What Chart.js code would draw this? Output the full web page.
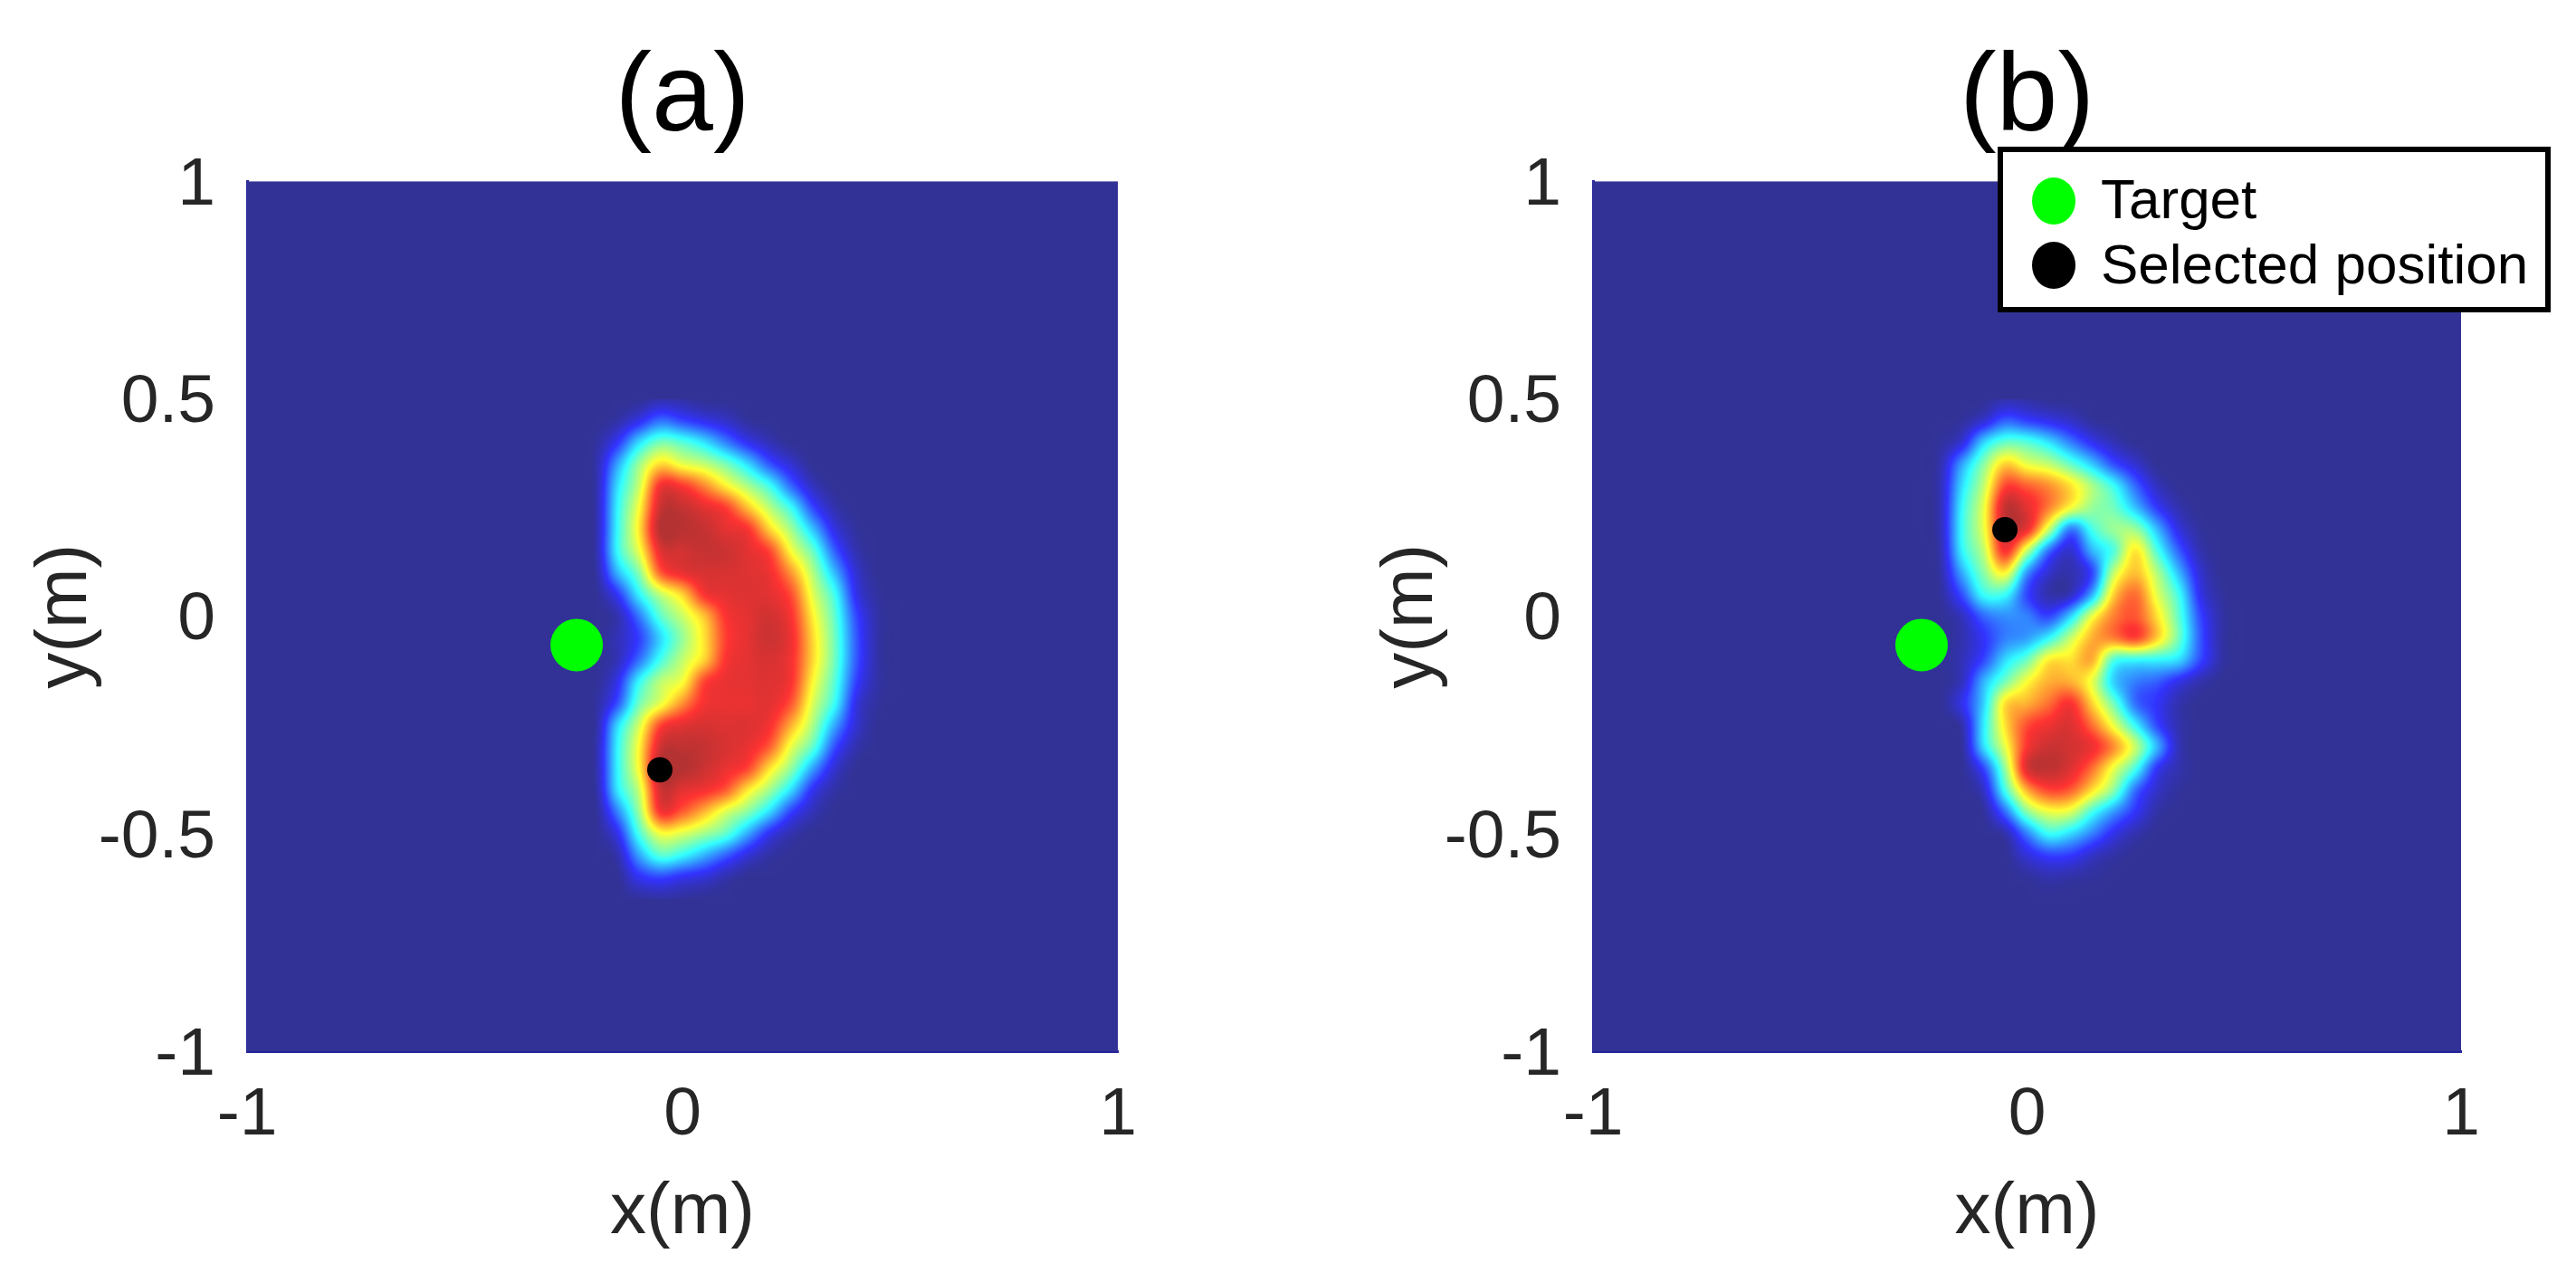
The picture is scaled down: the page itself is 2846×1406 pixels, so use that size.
<!DOCTYPE html>
<html><head><meta charset="utf-8">
<script src="https://cdn.jsdelivr.net/npm/chart.js@4"></script>
<style>html,body{margin:0;padding:0;background:#fff;width:2846px;height:1406px;overflow:hidden}
canvas{position:absolute;top:0}</style></head>
<body>
<canvas id="ca" width="1423" height="1406" style="left:0;width:1423px;height:1406px"></canvas>
<canvas id="cb" width="1423" height="1406" style="left:1423px;width:1423px;height:1406px"></canvas>
<script>
const gridX=[-0.3,-0.25,-0.2,-0.15,-0.1,-0.05,0,0.05,0.1,0.15,0.2,0.25,0.3,0.35,0.4,0.45,0.5];
const gridY=[0.5,0.45,0.4,0.35,0.3,0.25,0.2,0.15,0.1,0.05,0,-0.05,-0.1,-0.15,-0.2,-0.25,-0.3,-0.35,-0.4,-0.45,-0.5,-0.55,-0.6,-0.65];
const xTicks=[-1,0,1];
const yTicks=[-1,-0.5,0,0.5,1];
const panelTitles=["(a)","(b)"];
const xLabel="x(m)", yLabel="y(m)";
const legendLabels=["Target","Selected position"];
const targetA=[{x:-0.243,y:-0.066}];
const selectedA=[{x:-0.052,y:-0.353}];
const targetB=[{x:-0.243,y:-0.066}];
const selectedB=[{x:-0.051,y:0.199}];
const valuesA=[
[0,0,0,0,0,3,2,0,0,0,0,0,0,0,0,0,0],
[0,0,0,2,10,20,15,10,6,1,0,0,0,0,0,0,0],
[0,0,1,12,33,46,42,34,22,11,4,0,0,0,0,0,0],
[0,0,2,26,50,67,60,55,46,33,17,7,0,0,0,0,0],
[0,0,2,33,56,89,87,77,64,52,39,19,5,0,0,0,0],
[0,0,2,36,62,96,97,92,86,70,54,38,15,3,0,0,0],
[0,0,2,37,65,100,99,97,92,88,68,51,30,9,1,0,0],
[0,0,2,37,60,92,95,97,96,92,85,62,44,18,3,0,0],
[0,0,1,28,48,82,91,94,94,93,90,75,53,29,7,0,0],
[0,0,0,12,36,55,68,88,92,93,92,84,59,39,10,1,0],
[0,0,0,3,21,43,56,70,88,92,95,88,64,43,15,2,0],
[0,0,0,4,14,33,50,66,86,92,96,90,67,45,17,2,0],
[0,0,0,4,20,40,55,68,88,92,94,89,67,45,17,2,0],
[0,0,0,10,37,54,62,85,91,92,93,88,63,42,14,2,0],
[0,0,1,16,45,60,76,89,91,91,92,83,58,38,9,1,0],
[0,0,1,32,57,85,92,94,93,93,89,72,52,27,7,0,0],
[0,0,2,36,63,95,98,97,94,91,82,60,43,16,3,0,0],
[0,0,2,36,63,100,100,96,91,85,66,49,26,7,0,0,0],
[0,0,1,34,56,95,92,89,82,65,51,33,11,2,0,0,0],
[0,0,0,22,50,88,82,71,58,48,33,14,4,0,0,0,0],
[0,0,0,10,40,61,58,51,43,27,11,3,0,0,0,0,0],
[0,0,0,3,26,42,37,28,18,8,2,0,0,0,0,0,0],
[0,0,0,0,11,15,11,8,3,0,0,0,0,0,0,0,0],
[0,0,0,0,1,2,1,0,0,0,0,0,0,0,0,0,0]];
const valuesB=[
[0,0,0,0,0,3,2,0,0,0,0,0,0,0,0,0,0],
[0,0,0,1,7,18,14,10,6,1,0,0,0,0,0,0,0],
[0,0,1,8,32,44,42,34,22,11,4,0,0,0,0,0,0],
[0,0,3,26,48,68,60,55,44,31,16,7,0,0,0,0,0],
[0,0,4,33,55,85,82,76,66,52,38,19,5,0,0,0,0],
[0,0,4,37,60,97,92,78,62,50,45,30,13,3,0,0,0],
[0,0,4,38,60,95,90,56,22,40,50,50,29,9,1,0,0],
[0,0,3,36,55,88,55,20,7,28,42,65,41,18,3,0,0],
[0,0,2,27,48,63,25,7,3,15,55,70,53,29,7,0,0],
[0,0,1,16,38,38,15,3,5,28,68,80,59,39,10,1,0],
[0,0,0,5,19,24,22,15,32,60,78,83,66,43,15,2,0],
[0,0,0,3,12,22,26,37,55,72,78,85,68,45,17,2,0],
[0,0,0,4,15,33,45,64,66,72,42,38,37,33,15,2,0],
[0,0,0,5,28,46,62,72,72,60,32,22,18,10,3,0,0],
[0,0,0,10,32,66,72,80,88,68,45,20,12,3,0,0,0],
[0,0,0,3,35,66,84,90,93,80,60,37,15,3,0,0,0],
[0,0,0,1,33,60,88,96,95,90,76,55,28,4,0,0,0],
[0,0,0,0,15,50,93,98,93,80,60,40,12,3,0,0,0],
[0,0,0,0,6,40,72,85,82,66,48,20,6,1,0,0,0],
[0,0,0,0,1,20,48,60,58,40,25,12,2,0,0,0,0],
[0,0,0,0,0,3,22,38,33,22,10,3,0,0,0,0,0],
[0,0,0,0,0,0,8,14,13,6,2,0,0,0,0,0,0],
[0,0,0,0,0,0,1,3,2,1,0,0,0,0,0,0,0],
[0,0,0,0,0,0,0,0,0,0,0,0,0,0,0,0,0]];

const stops=[[0,50,50,150],[0.125,50,50,255],[0.375,50,255,255],[0.625,255,255,50],[0.875,255,50,50],[1,180,50,50]];
function colorAt(v){
  v=Math.max(0,Math.min(1,v));
  for(let i=1;i<stops.length;i++){
    if(v<=stops[i][0]){
      const a=stops[i-1],b=stops[i],t=(v-a[0])/(b[0]-a[0]);
      return [a[1]+(b[1]-a[1])*t,a[2]+(b[2]-a[2])*t,a[3]+(b[3]-a[3])*t];
    }
  }
  return stops[5].slice(1);
}
function cr(a,b,c,d,t){return 0.5*(2*b+(c-a)*t+(2*a-5*b+4*c-d)*t*t+(3*b-a-3*c+d)*t*t*t);}
function sample(rows,fx,fy){
  const R=rows.length,C=rows[0].length;
  const iy=Math.floor(fy),ix=Math.floor(fx),ty=fy-iy,tx=fx-ix,col=[];
  for(let m=-1;m<=2;m++){
    const r=rows[Math.max(0,Math.min(R-1,iy+m))];
    const g=k=>r[Math.max(0,Math.min(C-1,ix+k))];
    col.push(cr(g(-1),g(0),g(1),g(2),tx));
  }
  return cr(col[0],col[1],col[2],col[3],ty)/100;
}
const heatmapPlugin={
  id:'heatmap',
  beforeDatasetsDraw(chart,args,opts){
    const {ctx,chartArea:a,scales:{x,y}}=chart;
    ctx.save();
    const base=colorAt(0);
    ctx.fillStyle=`rgb(${base[0]},${base[1]},${base[2]})`;
    ctx.fillRect(a.left,a.top,a.right-a.left,a.bottom-a.top);
    const px0=Math.round(x.getPixelForValue(gridX[0])),px1=Math.round(x.getPixelForValue(gridX[gridX.length-1]));
    const py0=Math.round(y.getPixelForValue(gridY[0])),py1=Math.round(y.getPixelForValue(gridY[gridY.length-1]));
    const w=px1-px0,h=py1-py0;
    const off=document.createElement('canvas');off.width=w;off.height=h;
    const oc=off.getContext('2d'),img=oc.createImageData(w,h);
    const dx=gridX[1]-gridX[0],dy=gridY[1]-gridY[0];
    for(let j=0;j<h;j++){
      const fy=(y.getValueForPixel(py0+j+0.5)-gridY[0])/dy;
      for(let i=0;i<w;i++){
        const fx=(x.getValueForPixel(px0+i+0.5)-gridX[0])/dx;
        const c=colorAt(sample(opts.values,fx,fy)),p=(j*w+i)*4;
        img.data[p]=c[0];img.data[p+1]=c[1];img.data[p+2]=c[2];img.data[p+3]=255;
      }
    }
    oc.putImageData(img,0,0);
    ctx.drawImage(off,px0,py0);
    ctx.restore();
  }
};
const legendPlugin={
  id:'boxLegend',
  afterDraw(chart,args,opts){
    if(!opts.show) return;
    const c=chart.ctx;
    c.save();
    c.fillStyle='#fff';c.fillRect(784,162,611,183);
    c.strokeStyle='#000';c.lineWidth=6;c.strokeRect(787,165,605,177);
    const colors=['#00ff00','#000000'],cy=[222,293],base=[241,313];
    c.font='62px "Liberation Sans"';c.textBaseline='alphabetic';c.textAlign='left';
    legendLabels.forEach((t,i)=>{
      c.fillStyle=colors[i];c.beginPath();c.ellipse(846,cy[i],24,26,0,0,Math.PI*2);c.fill();
      c.fillStyle='#000';c.fillText(t,898,base[i]);
    });
    c.restore();
  }
};
function makePanel(id,title,values,target,selected,padL,padR,showLegend){
  return new Chart(document.getElementById(id),{
    type:'scatter',
    data:{datasets:[
      {label:'Target',data:target,pointRadius:29,pointHoverRadius:29,backgroundColor:'#00ff00',borderWidth:0},
      {label:'Selected position',data:selected,pointRadius:14,pointHoverRadius:14,backgroundColor:'#000000',borderWidth:0}
    ]},
    plugins:[heatmapPlugin,legendPlugin],
    options:{
      responsive:false,animation:false,devicePixelRatio:1,
      layout:{padding:{left:padL,right:padR,top:0,bottom:0}},
      plugins:{
        legend:{display:false},tooltip:{enabled:false},
        title:{display:true,text:title,color:'#000',fullSize:false,font:{family:'"Liberation Sans"',size:122,weight:'normal',lineHeight:1.2},padding:{top:37,bottom:17}},
        heatmap:{values},boxLegend:{show:showLegend}
      },
      scales:{
        x:{type:'linear',min:-1,max:1,
          afterBuildTicks:s=>{s.ticks=xTicks.map(v=>({value:v}));},
          afterFit:s=>{s.height=245;},
          grid:{display:false,drawTicks:false},border:{display:true,color:'#24249a',width:3},
          ticks:{color:'#262626',padding:26,maxRotation:0,autoSkip:false,font:{family:'"Liberation Sans"',size:75},callback:v=>String(v)},
          title:{display:true,text:xLabel,color:'#262626',font:{family:'"Liberation Sans"',size:80,lineHeight:1.2},padding:{top:0,bottom:18}}},
        y:{type:'linear',min:-1,max:1,
          afterBuildTicks:s=>{s.ticks=yTicks.map(v=>({value:v}));},
          afterFit:s=>{s.width=273;},
          grid:{display:false,drawTicks:false},border:{display:true,color:'#24249a',width:3},
          ticks:{color:'#262626',padding:35,labelOffset:5,autoSkip:false,font:{family:'"Liberation Sans"',size:75},callback:v=>String(v)},
          title:{display:true,text:yLabel,color:'#262626',font:{family:'"Liberation Sans"',size:80,lineHeight:1.2},padding:{top:25,bottom:0}}}
      }
    }
  });
}
makePanel('ca',panelTitles[0],valuesA,targetA,selectedA,0,188,false);
makePanel('cb',panelTitles[1],valuesB,targetB,selectedB,64,127,true);
</script>
</body></html>
